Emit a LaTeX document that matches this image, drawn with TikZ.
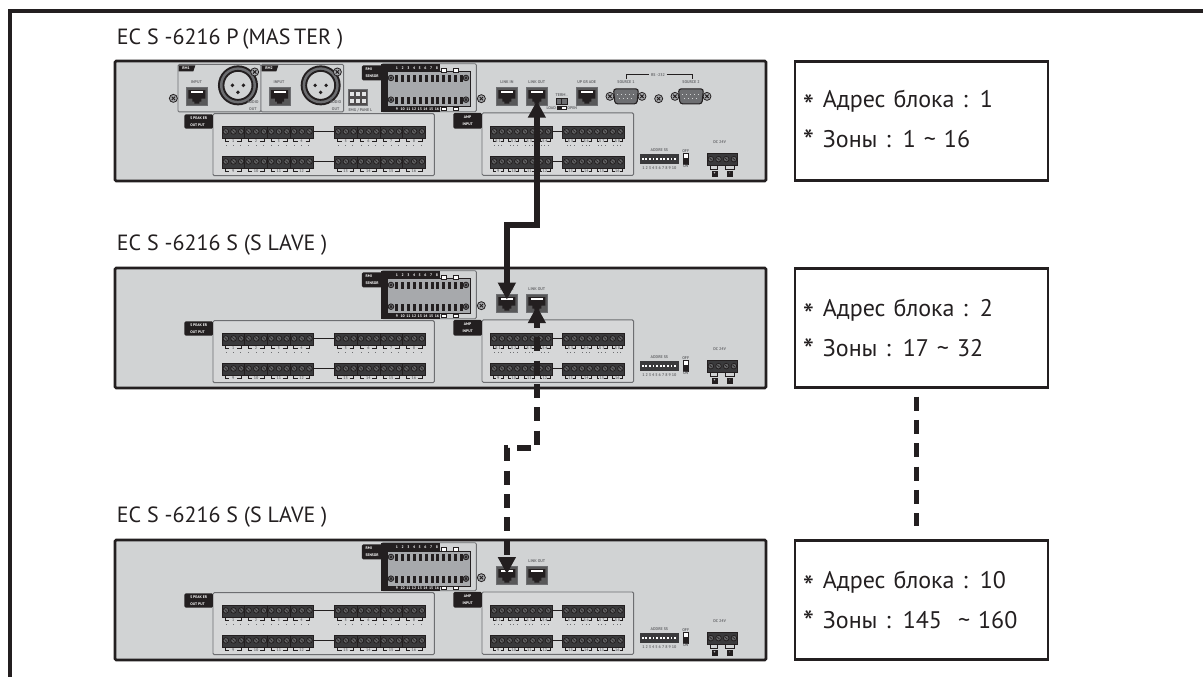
\documentclass[tikz,border=0pt]{standalone}
\usepackage{fontspec}
\setmainfont{PT Sans}
\usepackage{xcolor}
\definecolor{inkblack}{HTML}{231f20}
\definecolor{panelgray}{HTML}{d1d3d4}
\definecolor{midgray}{HTML}{6d6e71}
\definecolor{screwgray}{HTML}{a7a9ac}
\definecolor{stripgray}{HTML}{3a3a3c}
\usepackage{tikz}
\usetikzlibrary{
  arrows.meta,
  positioning,
  calc
}
\newcommand{\lowstar}{\makebox[15pt][l]{\raisebox{-7.5pt}{\fontsize{24}{24}\selectfont *}}}
\newcommand{\highstar}{\makebox[15pt][l]{\raisebox{-3.75pt}{\fontsize{24}{24}\selectfont *}}}

\begin{document}
\begin{tikzpicture}[
  x=0.75pt, y=-0.75pt,
  frameline/.style={draw=inkblack, line width=3pt},
  panelbox/.style={rectangle, draw=inkblack, fill=panelgray, line width=2pt, rounded corners=1pt, minimum width=488.25pt, minimum height=90pt, inner sep=0pt},
  infobox/.style={rectangle, draw=inkblack, line width=1.6pt, minimum width=189.75pt, minimum height=89.25pt, inner sep=0pt, text=inkblack, text width=178pt, align=left, font=\fontsize{18}{30}\selectfont},
  titlelabel/.style={anchor=base west, inner sep=0pt, text=inkblack, font=\fontsize{16.5}{19}\selectfont},
  tinylabel/.style={inner sep=0pt, text=midgray, align=center, font=\fontsize{3}{3.8}\selectfont\bfseries},
  tablabel/.style={inner sep=0pt, text=white, align=left, font=\fontsize{2.8}{5}\selectfont\bfseries},
  subbox/.style={draw=midgray, line width=0.7pt, rounded corners=1pt, fill=panelgray!90!white},
  tabfill/.style={fill=inkblack, rounded corners=1pt},
  portbox/.style={rectangle, draw=midgray, fill=stripgray!85!white, line width=0.4pt, minimum width=16.2pt, minimum height=13.8pt, inner sep=0pt,
    path picture={
      \begin{scope}[shift={(path picture bounding box.center)}]
        \fill[inkblack] (-8.5,-6) -- (8.5,-6) -- (8.5,2.5) -- (4.5,2.5) -- (4.5,5.5) -- (2.5,5.5) -- (2.5,7.5) -- (-2.5,7.5) -- (-2.5,5.5) -- (-4.5,5.5) -- (-4.5,2.5) -- (-8.5,2.5) -- cycle;
        \fill[white] (-6,-5.5) rectangle (6,-3);
      \end{scope}
    }},
  link/.style={draw=inkblack, line width=4.1pt, {Triangle[length=12.75pt,width=12.75pt]}-{Triangle[length=12.75pt,width=12.75pt]}},
  dashlink/.style={link, dash pattern=on 10.5pt off 7pt, dash phase=6pt},
  dotlink/.style={draw=inkblack, line width=4.1pt, dash pattern=on 10.5pt off 7pt},
  pics/screw/.style={code={
    \draw[inkblack, fill=screwgray, line width=0.6pt] (0,0) circle[radius=4];
    \draw[inkblack, line width=0.7pt] (-1.7,-1.7) -- (1.7,1.7) (-1.7,1.7) -- (1.7,-1.7);
  }},
  pics/smallscrew/.style={code={
    \draw[inkblack, fill=midgray, line width=0.6pt] (0,0) circle[radius=2.8];
    \draw[inkblack, line width=0.5pt] (-1.2,-1.2) -- (1.2,1.2) (-1.2,1.2) -- (1.2,-1.2);
  }},
  pics/termstrip/.style={code={
    \fill[stripgray] (0,0) rectangle (7.7*#1,12);
    \draw[inkblack, line width=0.5pt] (0,0) rectangle (7.7*#1,12);
    \foreach \s in {1,...,#1} {
      \draw[inkblack, fill=screwgray!60!black, line width=0.6pt] (7.7*\s-3.85,5.5) circle[radius=2.8];
      \draw[inkblack, line width=0.5pt] (7.7*\s-5,4.5) -- (7.7*\s-2.7,6.5);
    }
  }},
  pics/termlabel/.style 2 args={code={
    \draw[inkblack, line width=0.5pt] (-#1,0) |- (-#1/2,3) (#1/2,3) -| (#1,0);
    \node[tinylabel] at (0,3) {#2};
  }},
  pics/markrow/.style={code={
    \foreach \m in {-1,0,1} \fill[midgray] (#1*\m-0.5,-0.5) rectangle (#1*\m+0.5,0.5);
  }},
  pics/xlrjack/.style={code={
    \fill[inkblack] (0,0) circle[radius=20];
    \fill[midgray] (0,0) circle[radius=18];
    \draw[inkblack, line width=1.4pt, fill=panelgray] (0,0) circle[radius=14.5];
    \foreach \p/\q in {-5.5/0, 5.5/0, 0/7} \fill[inkblack] (\p,\q) circle[radius=1.9];
  }},
  pics/serialjack/.style={code={
    \pic at (-16,0) {screw};
    \pic at (16,0) {screw};
    \draw[inkblack, line width=0.8pt, fill=midgray, rounded corners=2pt] (-12.5,-7.5) -- (12.5,-7.5) -- (11,7.5) -- (-11,7.5) -- cycle;
    \foreach \p in {-8,-4,0,4,8} \fill[panelgray] (\p-0.5,-2.5) rectangle (\p+0.5,-1.5);
    \foreach \p in {-6,-2,2,6} \fill[panelgray] (\p-0.5,2) rectangle (\p+0.5,3);
  }},
  pics/basepanel/.style={code={
    % sensor block
    \draw[midgray, fill=panelgray, line width=0.6pt, rounded corners=1pt] (268,4) rectangle (362.7,52);
    \fill[inkblack] (267.7,4) rectangle (326,52);
    \fill[tabfill] (248.3,5.7) rectangle (270,20.7);
    \node[tablabel] at (258.5,13.2) {RMI\\SENSOR};
    \draw[inkblack, fill=screwgray, line width=0.7pt] (273.3,12.3) rectangle (356.7,47.3);
    \foreach \i in {0,...,11} {
      \fill[inkblack] (283+5.9*\i-1.5,15) rectangle (283+5.9*\i+1.5,22);
      \fill[inkblack] (283+5.9*\i-1.5,37) rectangle (283+5.9*\i+1.5,44);
    }
    \foreach \i in {1,...,8} \node[tablabel] at (277.6+5.7*\i,8.4) {\i};
    \foreach \i in {9,...,16} \node[tablabel] at (232+5.7*\i,49.7) {\i};
    \foreach \p in {328,340} {
      \draw[inkblack, fill=white, line width=0.3pt] (\p,9) rectangle (\p+5,12.3);
      \draw[inkblack, fill=white, line width=0.3pt] (\p,47.3) rectangle (\p+5,50.5);
    }
    \pic at (277.3,18.3) {smallscrew};
    \pic at (277.3,40) {smallscrew};
    \pic at (352.3,18.3) {smallscrew};
    \pic at (352.3,40) {smallscrew};
    \pic at (367.7,39) {screw};
    % speaker output
    \draw[subbox] (99.3,54) rectangle (320.7,116);
    \fill[tabfill] (70.7,54.7) rectangle (99.3,69);
    \node[tablabel] at (85,61.8) {S PEAK ER\\OUT PUT};
    \draw[inkblack, line width=0.7pt] (199.3,72) -- (220.7,72) (199.3,102) -- (220.7,102);
    \foreach \i in {0,...,3} {
      \pic at (108.3+22.75*\i,66.3) {termstrip=3};
      \pic at (220.7+22.75*\i,66.3) {termstrip=3};
      \pic at (108.3+22.75*\i,96.3) {termstrip=3};
      \pic at (220.7+22.75*\i,96.3) {termstrip=3};
      \pic at (119.7+22.75*\i,85.7) {markrow=7.2};
      \pic at (232+22.75*\i,85.7) {markrow=7.2};
    }
    \foreach \i/\n in {0/1,1/2,2/3,3/4} \pic at (119.7+22.75*\i,78.5) {termlabel={8}{\n}};
    \foreach \i/\n in {0/5,1/6,2/7,3/8} \pic at (232+22.75*\i,78.5) {termlabel={8}{\n}};
    \foreach \i/\n in {0/9,1/10,2/11,3/12} \pic at (119.7+22.75*\i,108.5) {termlabel={8}{\n}};
    \foreach \i/\n in {0/13,1/14,2/15,3/16} \pic at (232+22.75*\i,108.5) {termlabel={8}{\n}};
    % amp input
    \draw[subbox] (368.3,53.3) rectangle (520,115.7);
    \fill[tabfill] (339.7,53.3) rectangle (368.3,69);
    \node[tablabel, align=center] at (354,61.2) {AMP\\INPUT};
    \draw[inkblack, line width=0.7pt] (439,72) -- (449,72) (439,102) -- (449,102);
    \pic at (376.7,66.3) {termstrip=8};
    \pic at (449,66.3) {termstrip=8};
    \pic at (376.7,96.3) {termstrip=8};
    \pic at (449,96.3) {termstrip=8};
    \foreach \i/\n in {0/S 1,1/S 2,2/S 3,3/S 4} {
      \pic at (384.5+15.6*\i,78.5) {termlabel={5}{\n}};
      \pic at (384.5+15.6*\i,85.7) {markrow=3.5};
    }
    \foreach \i/\n in {0/S 5,1/S 6,2/S 7,3/S 8} {
      \pic at (457+15.6*\i,78.5) {termlabel={5}{\n}};
      \pic at (457+15.6*\i,85.7) {markrow=3.5};
    }
    \foreach \i/\n in {0/9,1/10,2/11,3/12} \pic at (384.5+15.6*\i,108.5) {termlabel={5}{\n}};
    \foreach \i/\n in {0/13,1/14,2/15,3/16} \pic at (457+15.6*\i,108.5) {termlabel={5}{\n}};
    % address
    \node[tinylabel] at (545.7,90) {ADDRE SS};
    \fill[stripgray] (526,94) rectangle (565.7,104);
    \foreach \i in {0,...,9} \fill[white] (529+3.6*\i-0.9,98) rectangle (529+3.6*\i+0.9,100.2);
    \draw[inkblack, fill=white, line width=0.3pt] (569.3,94) rectangle (574.3,104.5);
    \fill[inkblack] (569.3,98) rectangle (574.3,104.5);
    \node[tinylabel] at (572,91.8) {OFF};
    \node[tinylabel] at (572,106.5) {ON};
    \node[tinylabel] at (545.7,108) {1 2 3 4 5 6 7 8 9 10};
    % dc input
    \node[tinylabel] at (606,82.7) {DC 24V};
    \pic at (593.3,94) {termstrip=4};
    \draw[inkblack, line width=0.5pt] (597,106) |- (604,110) -- (604,106) (612,106) |- (621,110) -- (621,106);
    \fill[inkblack] (598,111.5) rectangle (604,117);
    \fill[inkblack] (613,111.5) rectangle (619,117);
    \node[tablabel] at (601,114.2) {+};
    \node[tablabel] at (616,114.2) {-};
    % link ports
    \node[tinylabel] at (393.2,22.3) {LINK IN};
    \node[tinylabel] at (423.2,22.3) {LINK OUT};
    \node[portbox] (-linkin) at (393.2,36.5) {};
    \node[portbox] (-linkout) at (423.2,36.5) {};
  }},
  pics/masterparts/.style={code={
    % remote mic inputs
    \draw[subbox, fill=panelgray] (64.3,4.7) rectangle (147.3,52.3);
    \draw[subbox, fill=panelgray] (147.3,4.7) rectangle (230,52.3);
    \foreach \p/\n in {65/RM1,148/RM2} {
      \fill[inkblack] (\p,5.7) -- (\p+16.7,5.7) -- (\p+14.7,11.7) -- (\p,11.7) -- cycle;
      \node[tablabel] at (\p+7.5,8.7) {\n};
    }
    \pic at (59.7,38.7) {screw};
    \foreach \p in {0,82.7} {
      \node[tinylabel] at (82.7+\p,22.3) {INPUT};
      \node[portbox] at (83.2+\p,36.5) {};
      \pic at (124.3+\p,25.7) {xlrjack};
      \pic at (141+\p,12.3) {screw};
      \node[tinylabel] at (139.3+\p,46) {AUDIO\\[1pt]OUT};
    }
    % emergency
    \draw[midgray, fill=inkblack!80, line width=0.4pt] (234.3,30) rectangle (254,45.7);
    \foreach \p in {238,244,250} \foreach \q in {34,41} \fill[panelgray!60] (\p-2,\q-2) rectangle (\p+2,\q+2);
    \node[tinylabel] at (246.7,50.3) {EMG / PANE L};
    % upgrade and serial
    \node[tinylabel] at (473,22.3) {UP GR ADE};
    \node[portbox] at (473.2,36.5) {};
    \node[tinylabel] at (448,35.2) {TERM .};
    \draw[inkblack, fill=midgray, line width=0.4pt] (443,38.3) rectangle (453.3,44.7);
    \draw[inkblack, line width=0.5pt] (448,38.3) -- (448,44.7);
    \fill[inkblack] (443.3,46.7) rectangle (453.3,50.7);
    \fill[white] (448,47.7) rectangle (452.5,49.7);
    \node[tinylabel] at (437.7,48.6) {LOAD};
    \node[tinylabel] at (458.5,48.6) {OPEN};
    \draw[inkblack, line width=0.5pt] (512.3,19) |- (535,15) (553,15) -| (578.3,19);
    \node[tinylabel] at (544.3,15) {RS -232};
    \node[tinylabel] at (512.3,22.3) {SOURCE 1};
    \node[tinylabel] at (577.3,22.3) {SOURCE 2};
    \pic at (512.3,36.7) {serialjack};
    \pic at (577.3,36.7) {serialjack};
    \pic at (545,39) {screw};
  }},
]
\useasboundingbox (0,0) rectangle (1203,677);

\draw[frameline] (10,677) |- (1203,11);

\node[panelbox] (master) at (440.5,121) {};
\node[panelbox] (slave) at (440.5,328) {};
\node[panelbox] (lastslave) at (440.5,600) {};

\pic (master) at (master.north west) {basepanel};
\pic at (master.north west) {masterparts};
\pic (slave) at (slave.north west) {basepanel};
\pic (lastslave) at (lastslave.north west) {basepanel};

\node[titlelabel] (mastertitle) at ([xshift=2.2pt,yshift=11.3pt]master.north west) {EC S -6216 P\,(MAS\,TER )};
\node[titlelabel] (slavetitle) at ([xshift=2.2pt,yshift=11.8pt]slave.north west) {EC S -6216 S (S LAVE )};
\node[titlelabel] (lastslavetitle) at ([xshift=2.2pt,yshift=11.8pt]lastslave.north west) {EC S -6216 S (S LAVE )};

\node[infobox, right=20pt of master] (infomaster) {\lowstar Адрес блока : 1\\\highstar Зоны : 1 \textasciitilde{} 16};
\node[infobox, right=20pt of slave] (infoslave) {\lowstar Адрес блока : 2\\\highstar Зоны : 17 \textasciitilde{} 32\vspace{-3pt}};
\node[infobox, right=20pt of lastslave] (infolast) {\lowstar Адрес блока : 10\\\highstar Зоны : 145 \ \textasciitilde{} 160\vspace{-3pt}};

\coordinate (bendtop) at (523,225);
\coordinate (bendlow) at (523,448);

\draw[link] ([yshift=-3.4pt]master-linkout.center) |- (bendtop) -| ([yshift=2.6pt]slave-linkin.center);
\draw[dashlink] ([yshift=-2.2pt]slave-linkout.center) |- (bendlow) -| ([yshift=0.8pt]lastslave-linkin.center);
\draw[dotlink] ([xshift=-4pt,yshift=-6pt]infoslave.south) -- ([xshift=-4pt,yshift=10pt]infolast.north);

\end{tikzpicture}
\end{document}
